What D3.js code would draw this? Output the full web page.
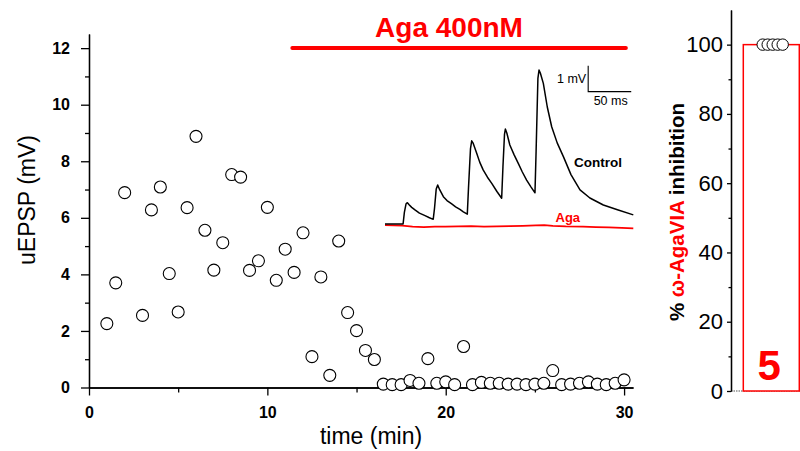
<!DOCTYPE html>
<html>
<head>
<meta charset="utf-8">
<script src="https://cdn.jsdelivr.net/npm/d3@7"></script>
<style>
  body { margin: 0; background: #fff; }
  svg { display: block; font-family: "Liberation Sans", Arial, sans-serif; }
</style>
</head>
<body>
<div id="chart"></div>
<script>
// time course (min) and uEPSP amplitude (mV)
const timeMin = [1, 1.5, 2, 3, 3.5, 4, 4.5, 5, 5.5, 6, 6.5, 7, 7.5, 8, 8.5, 9, 9.5, 10, 10.5,
  11, 11.5, 12, 12.5, 13, 13.5, 14, 14.5, 15, 15.5, 16, 16.5, 17, 17.5, 18, 18.5, 19, 19.5,
  20, 20.5, 21, 21.5, 22, 22.5, 23, 23.5, 24, 24.5, 25, 25.5, 26, 26.5, 27, 27.5, 28, 28.5,
  29, 29.5, 30];
const uepspMv = [2.26, 3.70, 6.89, 2.55, 6.28, 7.09, 4.03, 2.67, 6.36, 8.88, 5.56, 4.15, 5.12,
  7.53, 7.44, 4.14, 4.48, 6.37, 3.79, 4.89, 4.07, 5.47, 1.09, 3.91, 0.43, 5.18, 2.65, 2.01,
  1.31, 0.99, 0.12, 0.10, 0.10, 0.25, 0.15, 1.02, 0.15, 0.20, 0.10, 1.45, 0.10, 0.18, 0.15,
  0.15, 0.12, 0.12, 0.10, 0.12, 0.15, 0.60, 0.10, 0.12, 0.15, 0.20, 0.12, 0.10, 0.15, 0.27];

const agaPeriod = [11.4, 30.1];
const agaLabel = "Aga 400nM";

const xTicks = [0, 10, 20, 30];
const xMinor = [5, 15, 25];
const yTicks = [0, 2, 4, 6, 8, 10, 12];
const yMinor = [1, 3, 5, 7, 9, 11];

// inset traces [ms, mV]
const controlTrace = [
  [0, 0], [21, 0], [22.5, 0.45], [24.5, 0.78], [26, 0.82], [28, 0.74], [31, 0.64], [34.8, 0.54],
  [40, 0.42], [46.5, 0.32], [51, 0.25], [56, 0.18],
  [57.5, 0.6], [59.5, 1.35], [61.2, 1.5], [63.5, 1.32], [67.8, 1.05], [72, 0.9], [77.5, 0.77],
  [82, 0.66], [87, 0.56], [91, 0.47], [95.6, 0.38],
  [97, 1.4], [99.3, 2.9], [100.7, 3.2], [102.5, 3.1], [106.5, 2.72], [110, 2.38], [114, 2.08],
  [119, 1.8], [124, 1.56], [130, 1.25], [135.5, 0.99],
  [137, 2.2], [138.8, 3.45], [139.8, 3.65], [141.5, 3.5], [145, 3.04], [150, 2.66], [154.8, 2.33],
  [159.5, 2.0], [164.5, 1.69], [169.5, 1.43], [174.2, 1.2],
  [175.5, 2.8], [177.6, 5.6], [178.9, 5.92], [180.5, 5.8], [183.9, 5.41], [188.5, 4.5],
  [193.6, 3.74], [200, 3.12], [207.2, 2.59], [216, 1.9], [226.5, 1.31], [238, 1.0],
  [253.6, 0.73], [270, 0.55], [288.4, 0.35]
];
const agaTrace = [
  [0, -0.04], [10, -0.05], [20, -0.06], [32, -0.1], [45, -0.12], [58, -0.1], [70, -0.1],
  [85, -0.09], [100, -0.08], [115, -0.1], [130, -0.09], [145, -0.08], [160, -0.07],
  [175, -0.05], [185, -0.04], [195, -0.07], [210, -0.09], [230, -0.1], [245, -0.12],
  [260, -0.13], [275, -0.15], [288.4, -0.17]
];
const scaleBar = { ms: 50, mV: 1 };

// summary: % inhibition per cell
const inhibition = [100, 100, 100, 100, 100];
const meanInhibition = 100;
const nCells = 5;
const rTicks = [0, 20, 40, 60, 80, 100];
const rMinor = [10, 30, 50, 70, 90];

const width = 800;
const height = 451;
const font = "Liberation Sans, Arial, sans-serif";

let svg = d3.select("#chart")
  .append("svg")
  .attr("width", width)
  .attr("height", height);

// ---------- main time course ----------
let xScale = d3.scaleLinear().domain([0, 30.5]).range([89, 633]);
let yScale = d3.scaleLinear().domain([0, 12.5]).range([387.5, 34]);

function styleAxis(g, size, weight) {
  g.attr("font-family", font).attr("font-size", size);
  g.selectAll("line, path").attr("stroke", "black").attr("stroke-width", 1.3);
  g.selectAll("text").attr("fill", "black").style("font-weight", weight);
}

let xAxis = svg.append("g")
  .attr("transform", `translate(0,${yScale(0)})`)
  .call(d3.axisBottom(xScale).tickValues(xTicks).tickSize(8).tickSizeOuter(0).tickPadding(11));
styleAxis(xAxis, 16, "bold");
let xAxisMinor = svg.append("g")
  .attr("transform", `translate(0,${yScale(0)})`)
  .call(d3.axisBottom(xScale).tickValues(xMinor).tickSize(5).tickSizeOuter(0).tickFormat(""));
styleAxis(xAxisMinor, 16, "bold");

let yAxis = svg.append("g")
  .attr("transform", `translate(${xScale(0)},0)`)
  .call(d3.axisLeft(yScale).tickValues(yTicks).tickSize(8).tickSizeOuter(0).tickPadding(11));
styleAxis(yAxis, 16, "bold");
let yAxisMinor = svg.append("g")
  .attr("transform", `translate(${xScale(0)},0)`)
  .call(d3.axisLeft(yScale).tickValues(yMinor).tickSize(4).tickSizeOuter(0).tickFormat(""));
styleAxis(yAxisMinor, 16, "bold");

svg.append("text")
  .attr("text-anchor", "middle")
  .attr("font-size", 23)
  .attr("transform", "translate(371,444)")
  .text("time (min)");

svg.append("text")
  .attr("text-anchor", "middle")
  .attr("font-size", 23)
  .attr("transform", "translate(35,200) rotate(-90)")
  .text("uEPSP (mV)");

// drug application bar
svg.append("line")
  .attr("x1", xScale(agaPeriod[0]))
  .attr("x2", xScale(agaPeriod[1]))
  .attr("y1", 48)
  .attr("y2", 48)
  .attr("stroke", "#ff0000")
  .attr("stroke-width", 4)
  .attr("stroke-linecap", "round");

svg.append("text")
  .attr("x", 449)
  .attr("y", 37)
  .attr("text-anchor", "middle")
  .attr("fill", "#ff0000")
  .attr("font-size", 28)
  .attr("font-weight", "bold")
  .text(agaLabel);

let points = timeMin.map((t, i) => ({ t: t, v: uepspMv[i] }));

svg.append("g")
  .selectAll("circle")
  .data(points)
  .enter()
  .append("circle")
  .attr("cx", d => xScale(d.t))
  .attr("cy", d => yScale(d.v))
  .attr("r", 6)
  .attr("fill", "white")
  .attr("stroke", "black")
  .attr("stroke-width", 1.1);

// ---------- inset traces ----------
let insetX = d3.scaleLinear().domain([0, 288.4]).range([385, 633.3]);
let insetY = d3.scaleLinear().domain([0, 1]).range([224, 198]);

let traceLine = d3.line()
  .x(d => insetX(d[0]))
  .y(d => insetY(d[1]));

svg.append("path")
  .attr("d", traceLine(agaTrace))
  .attr("fill", "none")
  .attr("stroke", "#ff0000")
  .attr("stroke-width", 1.8);

svg.append("path")
  .attr("d", traceLine(controlTrace))
  .attr("fill", "none")
  .attr("stroke", "black")
  .attr("stroke-width", 1.5)
  .attr("stroke-linejoin", "round");

svg.append("text")
  .attr("x", 574)
  .attr("y", 167)
  .attr("font-size", 13.5)
  .attr("font-weight", "bold")
  .text("Control");

svg.append("text")
  .attr("x", 555.5)
  .attr("y", 221.5)
  .attr("font-size", 13)
  .attr("font-weight", "bold")
  .attr("fill", "#ff0000")
  .text("Aga");

// scale bar, anchored at 236 ms / 5.09 mV of the inset frame
const sb0 = [236, 5.09];
svg.append("path")
  .attr("d", d3.line()([
    [insetX(sb0[0]), insetY(sb0[1] + scaleBar.mV)],
    [insetX(sb0[0]), insetY(sb0[1])],
    [insetX(sb0[0] + scaleBar.ms), insetY(sb0[1])]
  ]))
  .attr("fill", "none")
  .attr("stroke", "black")
  .attr("stroke-width", 1.1);

svg.append("text")
  .attr("x", insetX(sb0[0]) - 2)
  .attr("y", 83)
  .attr("text-anchor", "end")
  .attr("font-size", 12.5)
  .text(`${scaleBar.mV} mV`);

svg.append("text")
  .attr("x", insetX(sb0[0] + scaleBar.ms / 2) + 1)
  .attr("y", 105)
  .attr("text-anchor", "middle")
  .attr("font-size", 12.5)
  .text(`${scaleBar.ms} ms`);

// ---------- summary bar ----------
let yR = d3.scaleLinear().domain([0, 110]).range([391, 10]);
let xR = d3.scaleBand().domain(["Aga"]).range([743.3, 799.3]);
let jitter = d3.scalePoint().domain(d3.range(inhibition.length)).range([762.7, 782.7]);

svg.append("line")
  .attr("x1", 731)
  .attr("x2", 800)
  .attr("y1", yR(0))
  .attr("y2", yR(0))
  .attr("stroke", "#555")
  .attr("stroke-width", 1.2)
  .attr("stroke-dasharray", "1.5,1");

svg.append("rect")
  .attr("x", xR("Aga"))
  .attr("y", yR(meanInhibition))
  .attr("width", xR.bandwidth())
  .attr("height", yR(0) - yR(meanInhibition))
  .attr("fill", "white")
  .attr("stroke", "#ff0000")
  .attr("stroke-width", 1.5);

let rAxis = svg.append("g")
  .attr("transform", "translate(731,0)")
  .call(d3.axisLeft(yR).tickValues(rTicks).tickSize(4).tickSizeOuter(0).tickPadding(4));
styleAxis(rAxis, 22, "normal");
let rAxisMinor = svg.append("g")
  .attr("transform", "translate(731,0)")
  .call(d3.axisLeft(yR).tickValues(rMinor).tickSize(2.5).tickSizeOuter(0).tickFormat(""));
styleAxis(rAxisMinor, 22, "normal");

svg.append("text")
  .attr("x", xR("Aga") + xR.bandwidth() / 2 - 2)
  .attr("y", 380)
  .attr("text-anchor", "middle")
  .attr("font-size", 42)
  .attr("font-weight", "bold")
  .attr("fill", "#ff0000")
  .text(nCells);

svg.append("g")
  .selectAll("circle")
  .data(inhibition)
  .enter()
  .append("circle")
  .attr("cx", (d, i) => jitter(i))
  .attr("cy", d => yR(d))
  .attr("r", 5.7)
  .attr("fill", "white")
  .attr("stroke", "black")
  .attr("stroke-width", 1);

let rLabel = svg.append("text")
  .attr("text-anchor", "middle")
  .attr("font-size", 20.5)
  .attr("font-weight", "bold")
  .attr("transform", "translate(684,212) rotate(-90)");
rLabel.append("tspan").text("% ");
rLabel.append("tspan").attr("fill", "#ff0000").text("\u03C9-AgaVIA");
rLabel.append("tspan").text(" inhibition");
</script>
</body>
</html>
